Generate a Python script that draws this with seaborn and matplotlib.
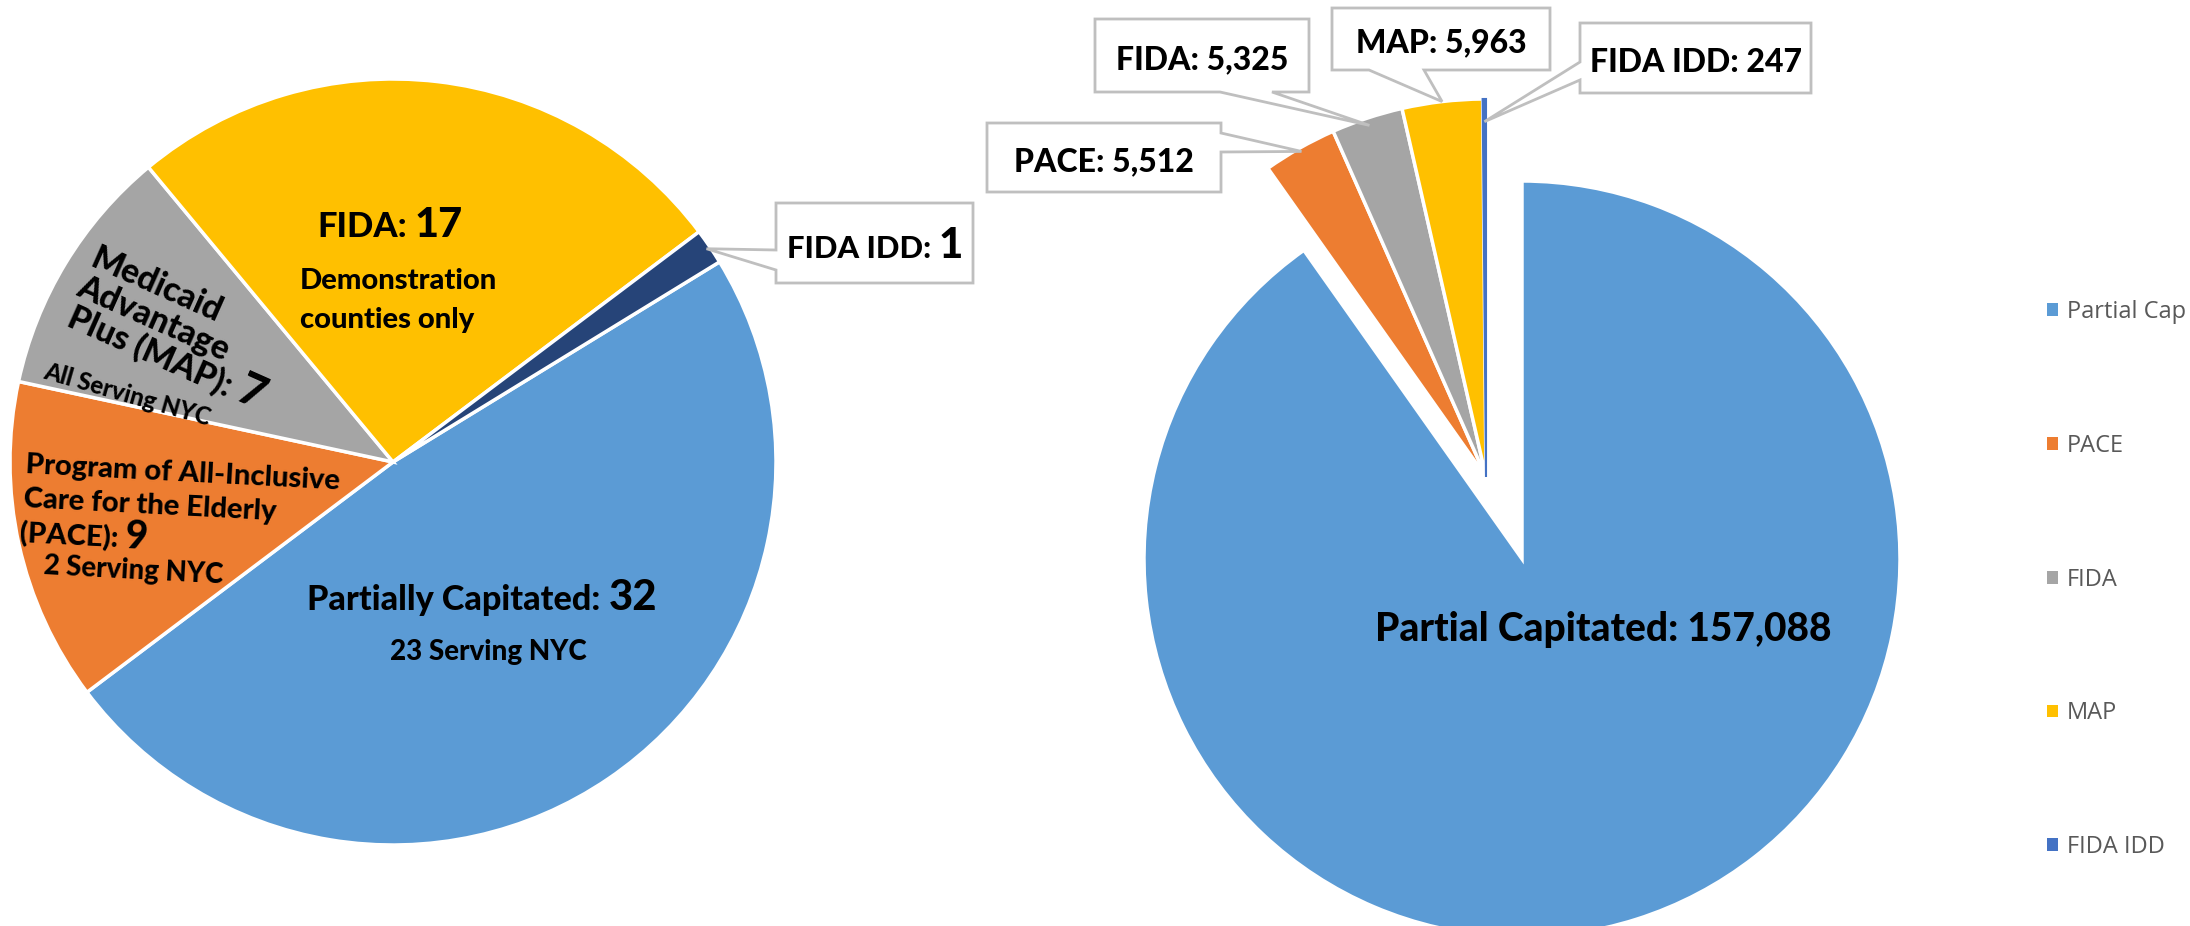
import os
import numpy as np
import matplotlib
matplotlib.use("Agg")
import matplotlib.pyplot as plt
from matplotlib.patches import Polygon, Rectangle
from matplotlib import font_manager as fm
import seaborn as sns

# ---------------- data ----------------
plan_types = ["Partially Capitated", "PACE", "MAP", "FIDA", "FIDA IDD"]
plan_counts = [32, 9, 7, 17, 1]

enroll_types = ["Partial Capitated", "PACE", "FIDA", "MAP", "FIDA IDD"]
enroll_counts = [157088, 5512, 5325, 5963, 247]
legend_labels = ["Partial Cap", "PACE", "FIDA", "MAP", "FIDA IDD"]

# ---------------- style / layout ----------------
W, H = 2190, 926
sns.set_theme(style="white")
FONT = ['Lato', 'DejaVu Sans']
plt.rcParams['font.family'] = FONT

_prefs = ["NotoSans-CondensedBold.", "NotoSansCondensed-Bold.", "OpenSans_Condensed-Bold.",
          "OpenSansCondensed-Bold.", "LiberationSansNarrow-Bold.", "Lato-Heavy.", "Lato-Bold."]
BOLD_FP = None
_files = [f.fname for f in fm.fontManager.ttflist]
for p in _prefs:
    hit = [f for f in _files if os.path.basename(f).startswith(p)]
    if hit:
        BOLD_FP = fm.FontProperties(fname=hit[0])
        break
if BOLD_FP is None:
    BOLD_FP = fm.FontProperties(family=FONT, weight='bold')


def fp(size):
    q = BOLD_FP.copy()
    q.set_size(size)
    return q


left_colors = sns.color_palette(["#5B9BD5", "#ED7D31", "#A5A5A5", "#FFC000", "#264478"])
right_colors = sns.color_palette(["#5B9BD5", "#ED7D31", "#A5A5A5", "#FFC000", "#4472C4"])

fig = plt.figure(figsize=(W / 100, H / 100), dpi=100)
ax = fig.add_axes([0, 0, 1, 1])


def Y(y):
    return H - y


L_C = (393, Y(462)); L_R = 383
R_C = (1522, Y(559)); R_R = 378
R_SHIFT = (-36, 82)

wl, _ = ax.pie(plan_counts, colors=left_colors, startangle=31.5, counterclock=False,
               radius=L_R, center=L_C,
               wedgeprops=dict(edgecolor='white', linewidth=2.5))
wr, _ = ax.pie(enroll_counts, colors=right_colors, startangle=90, counterclock=False,
               radius=R_R, center=R_C,
               wedgeprops=dict(edgecolor='white', linewidth=2.5))
for w in wr[1:]:
    w.set_center((R_C[0] + R_SHIFT[0], R_C[1] + R_SHIFT[1]))
wr[4].set_edgecolor(right_colors[4]); wr[4].set_linewidth(1.5)

ax.set_xlim(0, W); ax.set_ylim(0, H); ax.set_aspect('equal'); ax.axis('off')

renderer = fig.canvas.get_renderer()


def tw(s, size):
    t = ax.text(0, 0, s, fontproperties=fp(size))
    w = t.get_window_extent(renderer).width
    t.remove()
    return w


def gap(size):
    return tw("x x", size) - tw("xx", size)


def line_width(parts, size):
    total = 0
    for i, (s, k) in enumerate(parts):
        total += tw(s, size * k)
        if i < len(parts) - 1:
            total += gap(size)
    return total


def fit(parts, target):
    return 20 * target / line_width(parts, 20)


def cap_height(size):
    return 0.72 * size * 100 / 72


def draw(parts, size, cx, cy, rot=0, ha='center', color='black'):
    th = np.deg2rad(rot)
    u = np.array([np.cos(th), np.sin(th)])
    n = np.array([-np.sin(th), np.cos(th)])
    total = line_width(parts, size)
    p = np.array([cx, Y(cy)], float)
    p = p - n * cap_height(size) / 2
    if ha == 'center':
        p = p - u * total / 2
    elif ha == 'right':
        p = p - u * total
    for i, (s, k) in enumerate(parts):
        ax.text(p[0], p[1], s, fontproperties=fp(size * k),
                color=color, rotation=rot, rotation_mode='anchor',
                ha='left', va='baseline', zorder=6)
        p = p + u * (tw(s, size * k) + (gap(size) if i < len(parts) - 1 else 0))


def tip_of(w, frac):
    mid = np.deg2rad((w.theta1 + w.theta2) / 2)
    c = np.array(w.center)
    return tuple(c + frac * w.r * np.array([np.cos(mid), np.sin(mid)]))


def callout(box, side, b0, b1, tip):
    x0, y0, x1, y1 = box
    if side == 'left':
        pts = [(x0, Y(y0)), (x1, Y(y0)), (x1, Y(y1)), (x0, Y(y1)), (x0, Y(b1)), tip, (x0, Y(b0))]
    elif side == 'right':
        pts = [(x0, Y(y0)), (x1, Y(y0)), (x1, Y(b0)), tip, (x1, Y(b1)), (x1, Y(y1)), (x0, Y(y1))]
    else:  # bottom
        pts = [(x0, Y(y0)), (x1, Y(y0)), (x1, Y(y1)), (b1, Y(y1)), tip, (b0, Y(y1)), (x0, Y(y1))]
    ax.add_patch(Polygon(pts, closed=True, facecolor='white', edgecolor='#BFBFBF',
                         linewidth=2, joinstyle='miter', zorder=5))


fmt = lambda v: f"{v:,}"

# ---------------- left pie labels ----------------
s = fit([("FIDA:", 1), (str(plan_counts[3]), 1.2)], 146)
draw([("FIDA:", 1), (str(plan_counts[3]), 1.2)], s, 390, 225)
s = fit([("Demonstration", 1)], 198)
draw([("Demonstration", 1)], s, 300, 279, ha='left')
draw([("counties only", 1)], s, 300, 318, ha='left')

s = fit([("Medicaid", 1)], 140)
draw([("Medicaid", 1)], s, 157, 283, rot=-24)
draw([("Advantage", 1)], s, 154, 317, rot=-24)
draw([("Plus (MAP):", 1), (str(plan_counts[2]), 1.35)], s, 167, 357, rot=-24)
s2 = fit([("All Serving NYC", 1)], 172)
draw([("All Serving NYC", 1)], s2, 128, 394, rot=-16)

s = fit([("Program of All-Inclusive", 1)], 315)
draw([("Program of All-Inclusive", 1)], s, 183, 471, rot=-3)
draw([("Care for the Elderly", 1)], s, 150, 503, rot=-3)
draw([("(PACE):", 1), (str(plan_counts[1]), 1.33)], s, 84, 535, rot=-3)
s2 = fit([("2 Serving NYC", 1)], 180)
draw([("2 Serving NYC", 1)], s2, 133, 569, rot=-3)

s = fit([("Partially Capitated:", 1), (str(plan_counts[0]), 1.22)], 350)
draw([("Partially Capitated:", 1), (str(plan_counts[0]), 1.22)], s, 482, 598)
s = fit([("23 Serving NYC", 1)], 197)
draw([("23 Serving NYC", 1)], s, 488, 650)

# FIDA IDD callout (left)
callout((776, 203, 973, 283), 'left', 250, 270, tip_of(wl[4], 0.99))
s = fit([("FIDA IDD:", 1), (str(plan_counts[4]), 1.36)], 176)
draw([("FIDA IDD:", 1), (str(plan_counts[4]), 1.36)], s, 875, 247)

# ---------------- right pie labels ----------------
s = fit([(f"{enroll_types[0]}: {fmt(enroll_counts[0])}", 1)], 455)
draw([(f"{enroll_types[0]}: {fmt(enroll_counts[0])}", 1)], s, 1603, 627)

boxes = {
    1: ((987, 123, 1221, 192), 'right', 133, 152, 0.99, 184),
    2: ((1095, 19, 1309, 92), 'bottom', 1220, 1272, 0.98, 170),
    3: ((1332, 8, 1550, 70), 'bottom', 1369, 1424, 1.0, 172),
    4: ((1580, 23, 1811, 93), 'left', 62, 80, 0.94, 210),
}
sizes = []
for i, (box, side, b0, b1, frac, target) in boxes.items():
    sizes.append(fit([(f"{enroll_types[i]}: {fmt(enroll_counts[i])}", 1)], target))
cs = float(np.median(sizes))
for i, (box, side, b0, b1, frac, target) in boxes.items():
    callout(box, side, b0, b1, tip_of(wr[i], frac))
    x0, y0, x1, y1 = box
    draw([(f"{enroll_types[i]}: {fmt(enroll_counts[i])}", 1)], cs,
         (x0 + x1) / 2, (y0 + y1) / 2 + 2)

# ---------------- legend ----------------
handles = [Rectangle((0, 0), 1, 1, facecolor=c, edgecolor='none') for c in right_colors]
ax.legend(handles, legend_labels, loc='upper left',
          bbox_to_anchor=(2047 / W, 1 - 300 / H), frameon=False,
          prop=dict(family=['Open Sans', 'DejaVu Sans'], size=17),
          labelcolor='#595959', handlelength=0.45, handleheight=0.45,
          handletextpad=0.4, labelspacing=4.65, borderaxespad=0, borderpad=0)

fig.savefig("out.png", dpi=100, facecolor='white')
